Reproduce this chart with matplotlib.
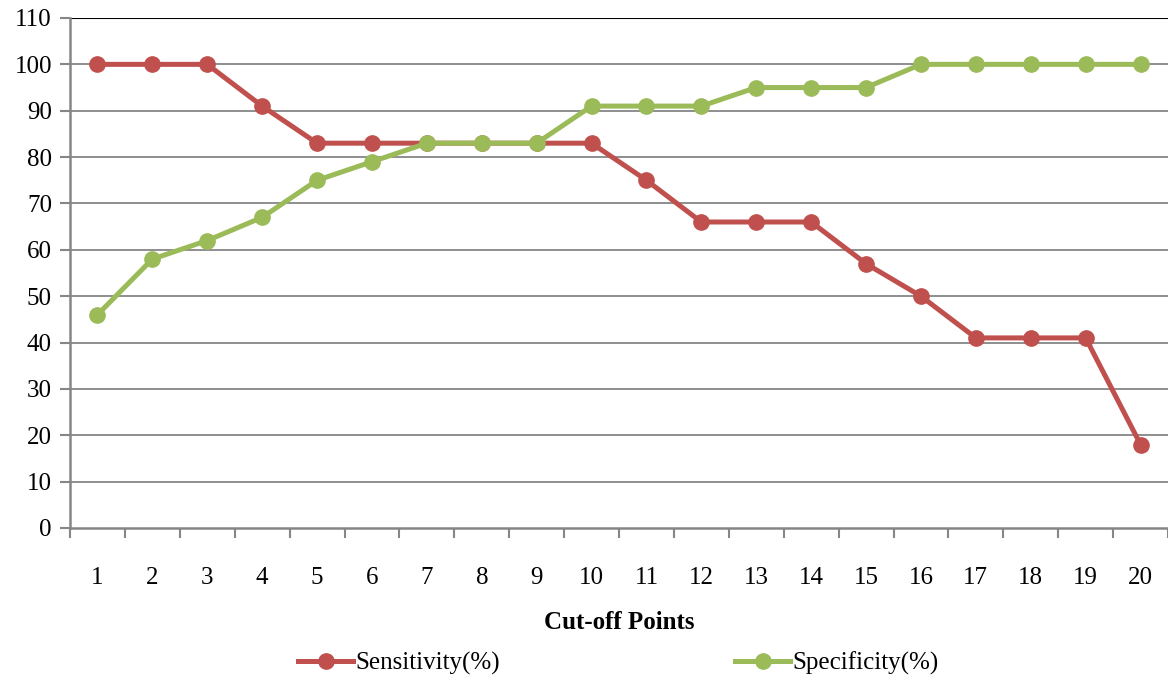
import matplotlib.pyplot as plt

cutoffs = list(range(1, 21))
sensitivity = [100, 100, 100, 91, 83, 83, 83, 83, 83, 83, 75, 66, 66, 66, 57, 50, 41, 41, 41, 18]
specificity = [46, 58, 62, 67, 75, 79, 83, 83, 83, 91, 91, 91, 95, 95, 95, 100, 100, 100, 100, 100]

red = '#C0504D'
green = '#9BBB59'
grey = '#868686'

plt.rcParams['font.family'] = ['Liberation Serif', 'DejaVu Serif']

fig = plt.figure(figsize=(11.68, 6.8), dpi=100)
ax = fig.add_axes([70 / 1168, 1 - 528 / 680, 1 - 70 / 1168, 510 / 680])

ax.plot(cutoffs, sensitivity, '-o', color=red, lw=3.6, ms=11, label='Sensitivity(%)', zorder=3)
ax.plot(cutoffs, specificity, '-o', color=green, lw=3.6, ms=11, label='Specificity(%)', zorder=3)

ax.set_xlim(0.5, 20.5)
ax.set_ylim(0, 110)
ax.set_yticks(range(0, 111, 10))
ax.set_xticks(cutoffs)
ax.set_xticks([i + 0.5 for i in range(0, 21)], minor=True)
ax.tick_params(axis='x', which='major', length=0, pad=28, labelsize=18)
ax.tick_params(axis='x', which='minor', length=7, width=1.5, color=grey, direction='out')
ax.tick_params(axis='y', length=7, width=1.5, color=grey, labelsize=18, pad=6)

for y in range(10, 101, 10):
    ax.axhline(y, color=grey, lw=1.3, zorder=1)
ax.axhline(110, color='black', lw=1.5, zorder=1)

for s in ['top', 'right']:
    ax.spines[s].set_visible(False)
for s in ['left', 'bottom']:
    ax.spines[s].set_color(grey)
    ax.spines[s].set_linewidth(1.8)

ax.set_xlabel('Cut-off Points', fontsize=18, fontweight='bold', labelpad=16)

fig.legend(loc='center', bbox_to_anchor=(0.5296, 1 - 663 / 680), ncol=2, frameon=False,
           fontsize=18, columnspacing=9.4, handlelength=2.2, handletextpad=0.1)

fig.savefig('out.png', dpi=100)
